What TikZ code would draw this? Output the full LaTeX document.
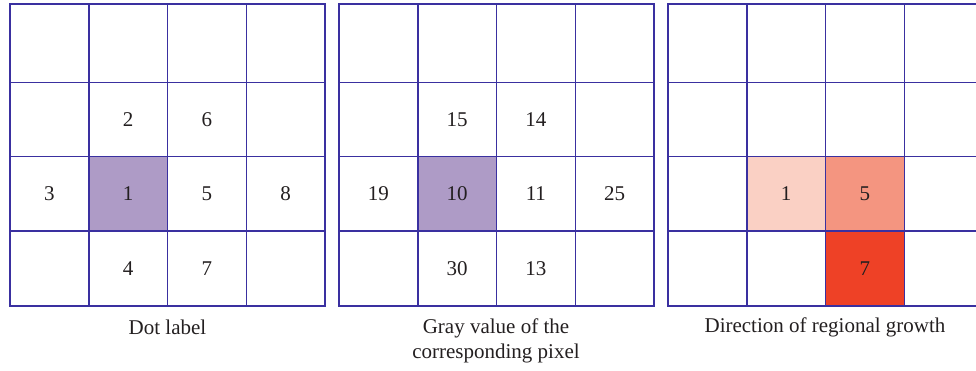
\documentclass[tikz,border=0pt]{standalone}
\usepackage{fontspec}
\setmainfont{Liberation Serif}
\definecolor{gridblue}{RGB}{58,48,160}
\definecolor{dotpurple}{RGB}{174,155,198}
\definecolor{growlight}{RGB}{250,208,196}
\definecolor{growmid}{RGB}{244,149,128}
\definecolor{growdark}{RGB}{238,65,38}
\definecolor{txtgray}{RGB}{35,31,32}
\tikzset{
  cell/.style={draw=gridblue, line width=1.5pt, minimum width=78.75pt, minimum height=#1, inner sep=0pt},
  cell/.default=75pt,
  caption/.style={align=center},
}

\begin{document}
\begin{tikzpicture}[x=1pt,y=-1pt, every node/.style={text=txtgray, font=\fontsize{21}{25}\selectfont}]
  \useasboundingbox (0,0) rectangle (976,370);

  % the three empty 4x4 grids
  \foreach \g/\xl in {1/10, 2/339, 3/668}
    \foreach \r/\yc/\h in {1/43.3/78.7, 2/119.6/73.8, 3/193.8/74.5, 4/268.5/75}
      \foreach \c in {1,...,4}
        \node[cell=\h pt] (g\g-\r-\c) at ({\xl+(\c-0.5)*78.75},\yc) {};

  % coloured cells
  \node[cell=74.5pt, fill=dotpurple] (dot1) at (g1-3-2) {1};
  \node[cell=74.5pt, fill=dotpurple] (gray10) at (g2-3-2) {10};
  \node[cell=74.5pt, fill=growlight] (grow1) at (g3-3-2) {1};
  \node[cell=74.5pt, fill=growmid] (grow5) at (g3-3-3) {5};
  \node[cell=75pt, fill=growdark] (grow7) at (g3-4-3) {7};

  % labels of the plain cells
  \foreach \r/\c/\t in {2/2/2, 2/3/6, 3/1/3, 3/3/5, 3/4/8, 4/2/4, 4/3/7}
    \node (d-\r-\c) at (g1-\r-\c) {\t};
  \foreach \r/\c/\t in {2/2/15, 2/3/14, 3/1/19, 3/3/11, 3/4/25, 4/2/30, 4/3/13}
    \node (v-\r-\c) at (g2-\r-\c) {\t};

  % captions
  \node[caption] (cap1) at (167.5,327) {Dot label};
  \node[caption] (cap2) at (496,340.5) {Gray value of the\\corresponding pixel};
  \node[caption] (cap3) at (825,327) {Direction of regional growth};
\end{tikzpicture}
\end{document}
